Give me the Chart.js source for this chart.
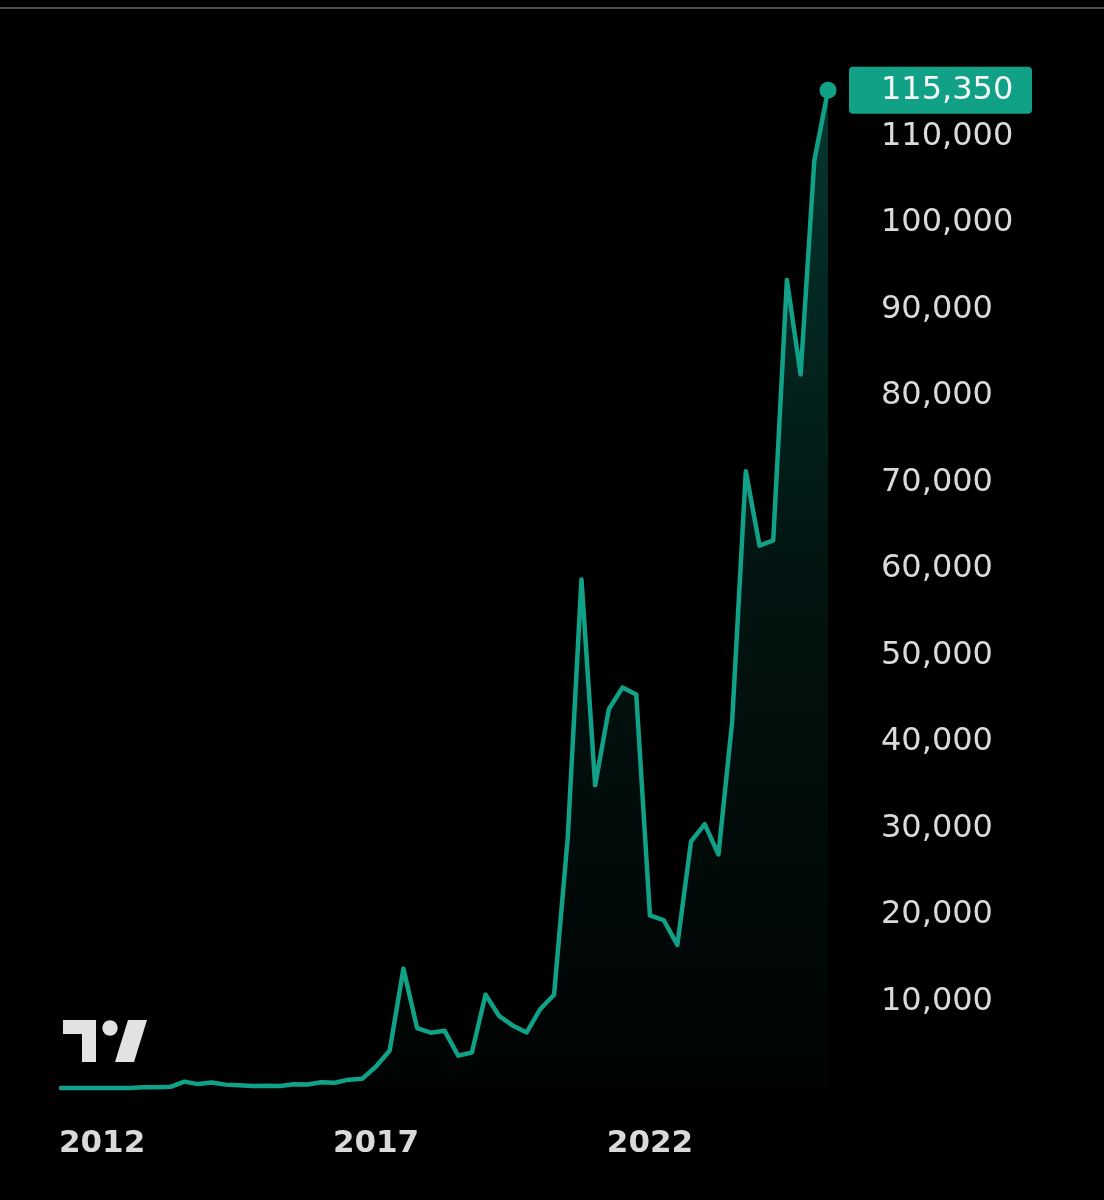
<!DOCTYPE html>
<html>
<head>
<meta charset="utf-8">
<script src="https://cdn.jsdelivr.net/npm/chart.js@4/dist/chart.umd.min.js"></script>
<style>
  html, body { margin: 0; padding: 0; background: #000; }
  #wrap { position: relative; width: 1104px; height: 1200px; background: #000; }
</style>
</head>
<body>
<div id="wrap"><canvas id="c"></canvas></div>
<script>
// Quarterly closes (USD), Q3 2011 .. Q3 2025
const quarters = [
  '2011 Q3','2011 Q4',
  '2012 Q1','2012 Q2','2012 Q3','2012 Q4',
  '2013 Q1','2013 Q2','2013 Q3','2013 Q4',
  '2014 Q1','2014 Q2','2014 Q3','2014 Q4',
  '2015 Q1','2015 Q2','2015 Q3','2015 Q4',
  '2016 Q1','2016 Q2','2016 Q3','2016 Q4',
  '2017 Q1','2017 Q2','2017 Q3','2017 Q4',
  '2018 Q1','2018 Q2','2018 Q3','2018 Q4',
  '2019 Q1','2019 Q2','2019 Q3','2019 Q4',
  '2020 Q1','2020 Q2','2020 Q3','2020 Q4',
  '2021 Q1','2021 Q2','2021 Q3','2021 Q4',
  '2022 Q1','2022 Q2','2022 Q3','2022 Q4',
  '2023 Q1','2023 Q2','2023 Q3','2023 Q4',
  '2024 Q1','2024 Q2','2024 Q3','2024 Q4',
  '2025 Q1','2025 Q2','2025 Q3'
];
const closes = [
  5, 5,
  5, 7, 12, 13,
  93, 97, 141, 740,
  450, 640, 390, 320,
  245, 265, 236, 430,
  415, 675, 610, 965,
  1080, 2480, 4340, 13800,
  6930, 6390, 6630, 3740,
  4100, 10800, 8300, 7200,
  6420, 9140, 10780, 29000,
  58800, 35000, 43800, 46300,
  45500, 19950, 19420, 16550,
  28500, 30500, 27000, 42300,
  71300, 62700, 63300, 93400,
  82500, 107200, 115350
];
const yTickValues = [10000, 20000, 30000, 40000, 50000, 60000, 70000, 80000, 90000, 100000, 110000];
const xYearLabels = ['2012', '2017', '2022'];
const xYearQuarters = ['2012 Q2', '2017 Q2', '2022 Q2'];

const TEAL = '#10a186';
const LABEL = '#dadada';

const decor = {
  id: 'decor',
  afterDraw(chart) {
    const ctx = chart.ctx;
    const y = chart.scales.y;
    const area = chart.chartArea;
    ctx.save();
    // top separator line
    ctx.fillStyle = '#4e4e4e';
    ctx.fillRect(0, 7, chart.width, 2);

    // last value badge
    const last = closes[closes.length - 1];
    const py = y.getPixelForValue(last);
    const bx = area.right + 21, bw = 183, bh = 47;
    ctx.fillStyle = TEAL;
    ctx.beginPath();
    ctx.roundRect(bx, py - bh / 2, bw, bh, 4);
    ctx.fill();
    ctx.fillStyle = '#f4f4f4';
    ctx.font = '32px "DejaVu Sans"';
    ctx.textAlign = 'left';
    ctx.textBaseline = 'middle';
    ctx.fillText(last.toLocaleString('en-US'), area.right + 53, py);

    // TradingView logo
    ctx.fillStyle = '#e2e2e2';
    ctx.fillRect(63, 1020, 33, 14);
    ctx.fillRect(82, 1020, 14, 42);
    ctx.beginPath();
    ctx.arc(110, 1028, 7.7, 0, Math.PI * 2);
    ctx.fill();
    ctx.beginPath();
    ctx.moveTo(128, 1020);
    ctx.lineTo(147, 1020);
    ctx.lineTo(134, 1062);
    ctx.lineTo(115, 1062);
    ctx.closePath();
    ctx.fill();
    ctx.restore();
  }
};

new Chart(document.getElementById('c'), {
  type: 'line',
  data: {
    labels: quarters,
    datasets: [{
      data: closes,
      borderColor: TEAL,
      borderWidth: 4.5,
      tension: 0,
      borderJoinStyle: 'round',
      borderCapStyle: 'round',
      clip: false,
      fill: 'origin',
      backgroundColor: (c) => {
        const a = c.chart.chartArea;
        if (!a) return 'rgba(15,159,133,0.15)';
        const g = c.chart.ctx.createLinearGradient(0, a.top, 0, a.bottom);
        g.addColorStop(0, 'rgba(15,159,133,0.36)');
        g.addColorStop(0.5, 'rgba(15,159,133,0.13)');
        g.addColorStop(1, 'rgba(15,159,133,0.02)');
        return g;
      },
      pointRadius: (c) => c.dataIndex === closes.length - 1 ? 8.5 : 0,
      pointHoverRadius: 0,
      pointBackgroundColor: TEAL,
      pointBorderWidth: 0
    }]
  },
  options: {
    responsive: true,
    maintainAspectRatio: false,
    animation: false,
    events: [],
    layout: { padding: { left: 61, right: 0, top: 50, bottom: 0 } },
    plugins: { legend: { display: false }, tooltip: { enabled: false } },
    scales: {
      x: {
        type: 'category',
        grid: { display: false, drawTicks: false },
        border: { display: false },
        ticks: {
          autoSkip: false,
          maxRotation: 0,
          minRotation: 0,
          padding: 37,
          color: LABEL,
          font: { family: 'DejaVu Sans', size: 31, weight: 'bold' },
          callback: (v, i) => {
            const k = xYearQuarters.indexOf(quarters[i]);
            return k >= 0 ? xYearLabels[k] : '';
          }
        },
        afterFit: (s) => { s.height = 112; s.paddingLeft = 0; s.paddingRight = 0; }
      },
      y: {
        position: 'right',
        min: 0,
        max: 120000,
        grid: { display: false, drawTicks: false },
        border: { display: false },
        afterBuildTicks: (s) => { s.ticks = yTickValues.map(v => ({ value: v })); },
        ticks: {
          padding: 53,
          color: LABEL,
          font: { family: 'DejaVu Sans', size: 32 },
          callback: (v) => Number(v).toLocaleString('en-US')
        },
        afterFit: (s) => { s.width = 276; s.paddingTop = 0; s.paddingBottom = 0; }
      }
    }
  },
  plugins: [decor]
});
</script>
</body>
</html>
